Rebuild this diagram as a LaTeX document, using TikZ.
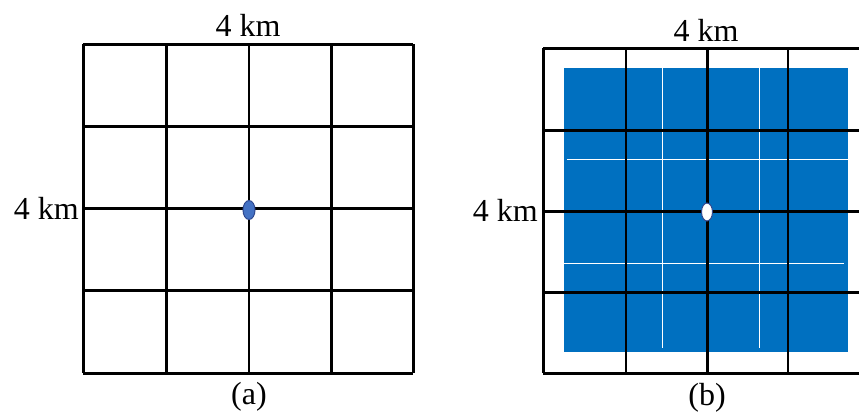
\documentclass[tikz,border=0pt]{standalone}
\usepackage{fontspec}
\setmainfont{Liberation Serif}
\usetikzlibrary{shapes.geometric}
\definecolor{cellblue}{RGB}{0,112,192}
\definecolor{dotblue}{RGB}{68,114,196}
\definecolor{dotedge}{RGB}{47,72,143}

\begin{document}
\begin{tikzpicture}[x=1pt,y=-1pt,
    gridline/.style={line width=3pt},
    thinline/.style={line width=1.8pt},
    faintline/.style={white, line width=1pt},
    kmtext/.style={font=\fontsize{32}{38}\selectfont, inner sep=0pt},
    station/.style={ellipse, inner sep=0pt, line width=1pt, draw=dotedge,
        minimum width=12pt, minimum height=19pt}]
\useasboundingbox (0,0) rectangle (859,416);
% (a) plain grid
\foreach \i in {0,...,4}
    \draw[gridline] (83,44+82.25*\i) -- (413,44+82.25*\i);
\foreach \x in {83,166,331,413}
    \draw[gridline] (\x,44) -- (\x,373);
\draw[thinline] (249,44) -- (249,373);
\node[station, fill=dotblue] (dotA) at (249,210) {};
\node[kmtext] (topA) at (248,25) {4 km};
\node[kmtext, anchor=east] (sideA) at (79,208) {4 km};
\node[kmtext] (capA) at (249,397) {(a)};
% (b) shifted grid over the blue area
\fill[cellblue] (564,68) rectangle (848,352);
\draw[faintline] (662,68) -- (662,348);
\draw[faintline] (759,68) -- (759,348);
\draw[faintline] (567,159) -- (848,159);
\draw[faintline] (564,263) -- (844,263);
\foreach \y in {48,130,211,292,373}
    \draw[gridline] (543,\y) -- (859,\y);
\foreach \x in {543,707}
    \draw[gridline] (\x,48) -- (\x,373);
\foreach \x in {626,788}
    \draw[thinline] (\x,48) -- (\x,373);
\node[station, fill=white, minimum width=11pt, minimum height=18pt] (dotB) at (707,212) {};
\node[kmtext] (topB) at (706,30) {4 km};
\node[kmtext, anchor=east] (sideB) at (538,210) {4 km};
\node[kmtext] (capB) at (707,398) {(b)};
\end{tikzpicture}
\end{document}
